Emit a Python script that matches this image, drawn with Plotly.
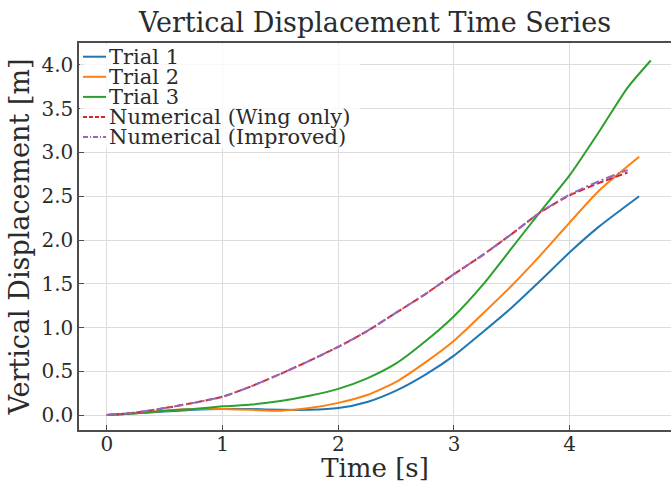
import plotly.graph_objects as go

# ---- data ----
t_trial = [0, 0.25, 0.5, 0.75, 1.0, 1.25, 1.5, 1.75, 2.0, 2.25, 2.5, 2.75,
           3.0, 3.25, 3.5, 3.75, 4.0, 4.25, 4.6]
trial1 = [0, 0.02, 0.04, 0.06, 0.07, 0.07, 0.06, 0.06, 0.08, 0.15, 0.28, 0.46,
          0.68, 0.95, 1.23, 1.54, 1.86, 2.15, 2.50]
trial2 = [0, 0.02, 0.05, 0.07, 0.07, 0.06, 0.05, 0.08, 0.14, 0.23, 0.38, 0.60,
          0.85, 1.16, 1.48, 1.83, 2.20, 2.56, 2.95]
t_trial3 = [0, 0.25, 0.5, 0.75, 1.0, 1.25, 1.5, 1.75, 2.0, 2.25, 2.5, 2.75,
            3.0, 3.25, 3.5, 3.75, 4.0, 4.25, 4.5, 4.7]
trial3 = [0, 0.02, 0.05, 0.07, 0.10, 0.12, 0.16, 0.22, 0.30, 0.42, 0.59, 0.84,
          1.13, 1.49, 1.91, 2.33, 2.74, 3.23, 3.74, 4.05]

t_num = [0, 0.25, 0.5, 0.75, 1.0, 1.25, 1.5, 1.75, 2.0, 2.25, 2.5, 2.75,
         3.0, 3.25, 3.5, 3.75, 4.0, 4.25, 4.5]
num_wing = [0, 0.03, 0.08, 0.14, 0.21, 0.33, 0.47, 0.62, 0.78, 0.96, 1.17, 1.38,
            1.61, 1.83, 2.07, 2.32, 2.51, 2.65, 2.77]
num_improved = [0, 0.03, 0.08, 0.14, 0.21, 0.33, 0.47, 0.62, 0.78, 0.96, 1.17, 1.38,
                1.61, 1.83, 2.07, 2.32, 2.52, 2.67, 2.80]

series_names = ["Trial 1", "Trial 2", "Trial 3",
                "Numerical (Wing only)", "Numerical (Improved)"]
series_colors = ["#1f77b4", "#ff7f0e", "#2ca02c", "#d62728", "#9467bd"]
series_dashes = ["solid", "solid", "solid", "7px,3px", "9px,3px,2px,3px"]
legend_dashes = ["solid", "solid", "solid", "4px,2px", "5px,2px,1px,2px"]

x_ticks = [0, 1, 2, 3, 4]
y_ticks = [0.0, 0.5, 1.0, 1.5, 2.0, 2.5, 3.0, 3.5, 4.0]

FONT = "DejaVu Serif"
TXT = "#2b2b2b"
AX = "#4d4d4d"

W, H = 671, 483
ML, MR, MT, MB = 79, 0, 43, 53
PW, PH = W - ML - MR, H - MT - MB


def px_x(p):
    return (p - ML) / PW


def px_y(p):
    return (H - MB - p) / PH


fig = go.Figure()
xs = [t_trial, t_trial, t_trial3, t_num, t_num]
ys = [trial1, trial2, trial3, num_wing, num_improved]
for name, x, y, c, d in zip(series_names, xs, ys, series_colors, series_dashes):
    fig.add_trace(go.Scatter(x=x, y=y, mode="lines", name=name, showlegend=False,
                             line=dict(color=c, width=2, dash=d, shape="spline", smoothing=0.6)))

# legend (matplotlib-like, compact)
shapes = [dict(type="rect", xref="paper", yref="paper",
               x0=px_x(80), x1=px_x(360), y0=px_y(148), y1=px_y(44),
               fillcolor="rgba(255,255,255,0.8)", line=dict(width=0), layer="above")]
annotations = []
row0, dy = 56.7, 20.1
for i, (name, c, d) in enumerate(zip(series_names, series_colors, legend_dashes)):
    yy = px_y(row0 + i * dy)
    shapes.append(dict(type="line", xref="paper", yref="paper",
                       x0=px_x(83), x1=px_x(106), y0=yy, y1=yy, layer="above",
                       line=dict(color=c, width=2, dash=d)))
    annotations.append(dict(xref="paper", yref="paper", x=px_x(108), y=yy,
                            xanchor="left", yanchor="middle", text=name, showarrow=False,
                            borderpad=0,
                            font=dict(size=21, family=FONT, color=TXT)))

fig.update_layout(
    width=W, height=H,
    margin=dict(l=ML, r=MR, t=MT, b=MB),
    paper_bgcolor="white", plot_bgcolor="white",
    font=dict(family=FONT, color=TXT),
    title=dict(text="Vertical Displacement Time Series", x=0.5, xref="paper",
               yref="container", y=1 - 23 / H, yanchor="middle",
               font=dict(size=27, family=FONT, color=TXT)),
    showlegend=False,
    shapes=shapes, annotations=annotations,
)
fig.update_xaxes(
    range=[-0.24, 4.875], tickvals=x_ticks, ticktext=[str(v) for v in x_ticks],
    showgrid=True, gridcolor="#dcdcdc", gridwidth=1, zeroline=False,
    showline=True, linecolor=AX, linewidth=1.5, mirror=True,
    ticks="inside", ticklen=5, tickcolor=AX, tickwidth=1,
    ticklabelstandoff=-5,
    tickfont=dict(size=20, family=FONT, color=TXT),
    title=dict(text="Time [s]", font=dict(size=26, family=FONT, color=TXT), standoff=2),
)
fig.update_yaxes(
    range=[-0.17, 4.25], tickvals=y_ticks, ticktext=[f"{v:.1f}" for v in y_ticks],
    showgrid=True, gridcolor="#dcdcdc", gridwidth=1, zeroline=False,
    showline=True, linecolor=AX, linewidth=1.5, mirror=False,
    ticks="inside", ticklen=5, tickcolor=AX, tickwidth=1,
    tickfont=dict(size=20, family=FONT, color=TXT),
    title=dict(text="Vertical Displacement [m]", font=dict(size=27, family=FONT, color=TXT), standoff=4),
)

fig.write_html("out.html")
